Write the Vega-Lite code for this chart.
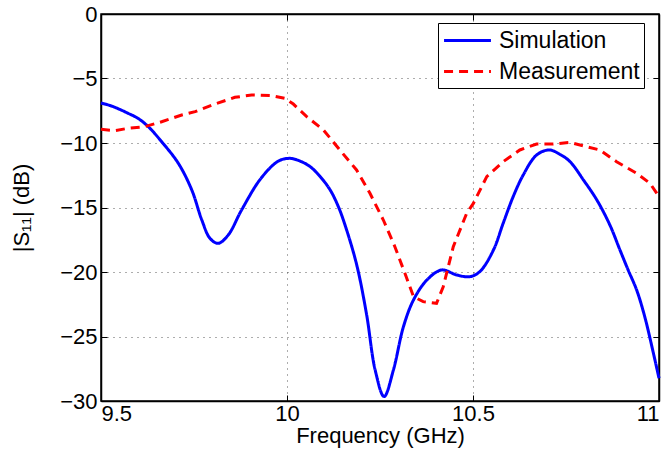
{
  "$schema": "https://vega.github.io/schema/vega-lite/v6.json",
  "width": 558,
  "height": 387,
  "autosize": {"type": "none"},
  "padding": {"left": 101, "top": 14, "right": 11, "bottom": 60},
  "background": "white",
  "config": {
    "view": {"stroke": "black", "strokeWidth": 1.5},
    "font": "Liberation Sans",
    "axis": {
      "domainColor": "black",
      "domainWidth": 1.5,
      "tickColor": "black",
      "tickWidth": 1,
      "labelFont": "Liberation Sans, DejaVu Sans",
      "labelFontSize": 22,
      "labelColor": "black",
      "titleFont": "Liberation Sans, DejaVu Sans",
      "titleFontSize": 22,
      "titleFontWeight": "normal",
      "titleColor": "black",
      "gridColor": "#333333",
      "gridDash": [1, 5],
      "gridWidth": 1,
      "gridOpacity": 0.8
    },
    "legend": {
      "orient": "none",
      "legendX": 337,
      "legendY": 9,
      "strokeColor": "black",
      "fillColor": "white",
      "padding": 4,
      "symbolType": "M-2,0H2",
      "symbolSize": 550,
      "symbolOffset": 12,
      "symbolStrokeWidth": 3,
      "labelFont": "Liberation Sans",
      "labelFontSize": 23,
      "labelColor": "black",
      "rowPadding": 5,
      "labelOffset": 18
    }
  },
  "datasets": {
    "curves": [
      {"f": 9.5, "s": -6.9, "series": "Simulation"},
      {"f": 9.53, "s": -7.15, "series": "Simulation"},
      {"f": 9.573, "s": -7.7, "series": "Simulation"},
      {"f": 9.6, "s": -8.1, "series": "Simulation"},
      {"f": 9.627, "s": -8.73, "series": "Simulation"},
      {"f": 9.663, "s": -9.9, "series": "Simulation"},
      {"f": 9.708, "s": -11.58, "series": "Simulation"},
      {"f": 9.744, "s": -13.64, "series": "Simulation"},
      {"f": 9.771, "s": -15.97, "series": "Simulation"},
      {"f": 9.793, "s": -17.39, "series": "Simulation"},
      {"f": 9.815, "s": -17.78, "series": "Simulation"},
      {"f": 9.842, "s": -17.13, "series": "Simulation"},
      {"f": 9.878, "s": -15.19, "series": "Simulation"},
      {"f": 9.93, "s": -12.74, "series": "Simulation"},
      {"f": 9.977, "s": -11.4, "series": "Simulation"},
      {"f": 10.008, "s": -11.19, "series": "Simulation"},
      {"f": 10.035, "s": -11.4, "series": "Simulation"},
      {"f": 10.062, "s": -11.83, "series": "Simulation"},
      {"f": 10.089, "s": -12.6, "series": "Simulation"},
      {"f": 10.116, "s": -13.64, "series": "Simulation"},
      {"f": 10.138, "s": -14.93, "series": "Simulation"},
      {"f": 10.156, "s": -16.36, "series": "Simulation"},
      {"f": 10.187, "s": -19.4, "series": "Simulation"},
      {"f": 10.214, "s": -23.3, "series": "Simulation"},
      {"f": 10.237, "s": -27.6, "series": "Simulation"},
      {"f": 10.261, "s": -29.66, "series": "Simulation"},
      {"f": 10.286, "s": -27.6, "series": "Simulation"},
      {"f": 10.313, "s": -24.24, "series": "Simulation"},
      {"f": 10.34, "s": -22.17, "series": "Simulation"},
      {"f": 10.376, "s": -20.62, "series": "Simulation"},
      {"f": 10.416, "s": -19.84, "series": "Simulation"},
      {"f": 10.456, "s": -20.23, "series": "Simulation"},
      {"f": 10.492, "s": -20.36, "series": "Simulation"},
      {"f": 10.519, "s": -19.95, "series": "Simulation"},
      {"f": 10.555, "s": -18.29, "series": "Simulation"},
      {"f": 10.581, "s": -16.23, "series": "Simulation"},
      {"f": 10.608, "s": -14.16, "series": "Simulation"},
      {"f": 10.635, "s": -12.48, "series": "Simulation"},
      {"f": 10.671, "s": -10.93, "series": "Simulation"},
      {"f": 10.705, "s": -10.54, "series": "Simulation"},
      {"f": 10.735, "s": -10.9, "series": "Simulation"},
      {"f": 10.761, "s": -11.45, "series": "Simulation"},
      {"f": 10.797, "s": -12.87, "series": "Simulation"},
      {"f": 10.833, "s": -14.42, "series": "Simulation"},
      {"f": 10.868, "s": -16.36, "series": "Simulation"},
      {"f": 10.895, "s": -18.29, "series": "Simulation"},
      {"f": 10.917, "s": -19.84, "series": "Simulation"},
      {"f": 10.94, "s": -21.4, "series": "Simulation"},
      {"f": 10.962, "s": -23.5, "series": "Simulation"},
      {"f": 10.985, "s": -26.3, "series": "Simulation"},
      {"f": 11.0, "s": -28.24, "series": "Simulation"},
      {"f": 9.5, "s": -8.94, "series": "Measurement"},
      {"f": 9.538, "s": -9.04, "series": "Measurement"},
      {"f": 9.573, "s": -8.86, "series": "Measurement"},
      {"f": 9.618, "s": -8.73, "series": "Measurement"},
      {"f": 9.663, "s": -8.35, "series": "Measurement"},
      {"f": 9.717, "s": -7.83, "series": "Measurement"},
      {"f": 9.753, "s": -7.57, "series": "Measurement"},
      {"f": 9.806, "s": -6.98, "series": "Measurement"},
      {"f": 9.86, "s": -6.46, "series": "Measurement"},
      {"f": 9.905, "s": -6.28, "series": "Measurement"},
      {"f": 9.959, "s": -6.33, "series": "Measurement"},
      {"f": 9.995, "s": -6.54, "series": "Measurement"},
      {"f": 10.017, "s": -6.98, "series": "Measurement"},
      {"f": 10.053, "s": -7.96, "series": "Measurement"},
      {"f": 10.098, "s": -8.99, "series": "Measurement"},
      {"f": 10.142, "s": -10.54, "series": "Measurement"},
      {"f": 10.187, "s": -12.09, "series": "Measurement"},
      {"f": 10.223, "s": -13.9, "series": "Measurement"},
      {"f": 10.259, "s": -15.97, "series": "Measurement"},
      {"f": 10.29, "s": -18.04, "series": "Measurement"},
      {"f": 10.317, "s": -20.1, "series": "Measurement"},
      {"f": 10.34, "s": -21.9, "series": "Measurement"},
      {"f": 10.366, "s": -22.3, "series": "Measurement"},
      {"f": 10.402, "s": -22.43, "series": "Measurement"},
      {"f": 10.42, "s": -21.14, "series": "Measurement"},
      {"f": 10.447, "s": -18.04, "series": "Measurement"},
      {"f": 10.483, "s": -15.45, "series": "Measurement"},
      {"f": 10.501, "s": -14.68, "series": "Measurement"},
      {"f": 10.537, "s": -12.61, "series": "Measurement"},
      {"f": 10.581, "s": -11.45, "series": "Measurement"},
      {"f": 10.626, "s": -10.54, "series": "Measurement"},
      {"f": 10.671, "s": -10.08, "series": "Measurement"},
      {"f": 10.716, "s": -10.08, "series": "Measurement"},
      {"f": 10.761, "s": -9.95, "series": "Measurement"},
      {"f": 10.806, "s": -10.29, "series": "Measurement"},
      {"f": 10.841, "s": -10.54, "series": "Measurement"},
      {"f": 10.886, "s": -11.45, "series": "Measurement"},
      {"f": 10.94, "s": -12.35, "series": "Measurement"},
      {"f": 10.976, "s": -13.13, "series": "Measurement"},
      {"f": 11.0, "s": -14.16, "series": "Measurement"}
    ]
  },
  "data": {"name": "curves"},
  "layer": [
    {
      "transform": [{"filter": "datum.series === 'Simulation'"}],
      "mark": {"type": "line", "interpolate": "catmull-rom", "strokeWidth": 3},
      "encoding": {
        "x": {
          "field": "f", "type": "quantitative",
          "scale": {"domain": [9.5, 11], "nice": false, "zero": false},
          "axis": {"title": "Frequency (GHz)", "values": [9.5, 10, 10.5, 11], "format": "~g", "grid": true, "ticks": false, "labelPadding": 2, "titlePadding": 1}
        },
        "y": {
          "field": "s", "type": "quantitative",
          "scale": {"domain": [-30, 0], "nice": false, "zero": false},
          "axis": {"title": "|S₁₁| (dB)", "values": [0, -5, -10, -15, -20, -25, -30], "grid": true, "ticks": false, "labelPadding": 4, "titleX": -68}
        },
        "color": {
          "field": "series", "type": "nominal",
          "scale": {"domain": ["Simulation", "Measurement"], "range": ["#0000ff", "#ff0000"]},
          "legend": {"title": null}
        },
        "strokeDash": {
          "field": "series", "type": "nominal",
          "scale": {"domain": ["Simulation", "Measurement"], "range": [[1, 0], [9, 6]]},
          "legend": {"title": null}
        }
      }
    },
    {
      "transform": [{"filter": "datum.series === 'Measurement'"}],
      "mark": {"type": "line", "interpolate": "linear", "strokeWidth": 3},
      "encoding": {
        "x": {"field": "f", "type": "quantitative", "axis": {"orient": "bottom", "labels": false, "title": null, "domain": false, "grid": false, "tickSize": -6, "values": [9.5, 10, 10.5, 11]}},
        "y": {"field": "s", "type": "quantitative", "axis": {"orient": "left", "labels": false, "title": null, "domain": false, "grid": false, "tickSize": -6, "values": [0, -5, -10, -15, -20, -25, -30]}},
        "color": {"field": "series", "type": "nominal", "legend": {"title": null}},
        "strokeDash": {"field": "series", "type": "nominal", "legend": {"title": null}}
      }
    },
    {
      "mark": {"type": "line", "opacity": 0},
      "encoding": {
        "x": {"field": "f", "type": "quantitative", "axis": {"orient": "top", "labels": false, "title": null, "tickSize": -6, "values": [9.5, 10, 10.5, 11], "grid": false}},
        "y": {"field": "s", "type": "quantitative", "axis": {"orient": "right", "labels": false, "title": null, "tickSize": -6, "values": [0, -5, -10, -15, -20, -25, -30], "grid": false}},
        "detail": {"field": "series"}
      }
    }
  ],
  "resolve": {"axis": {"x": "independent", "y": "independent"}}
}
